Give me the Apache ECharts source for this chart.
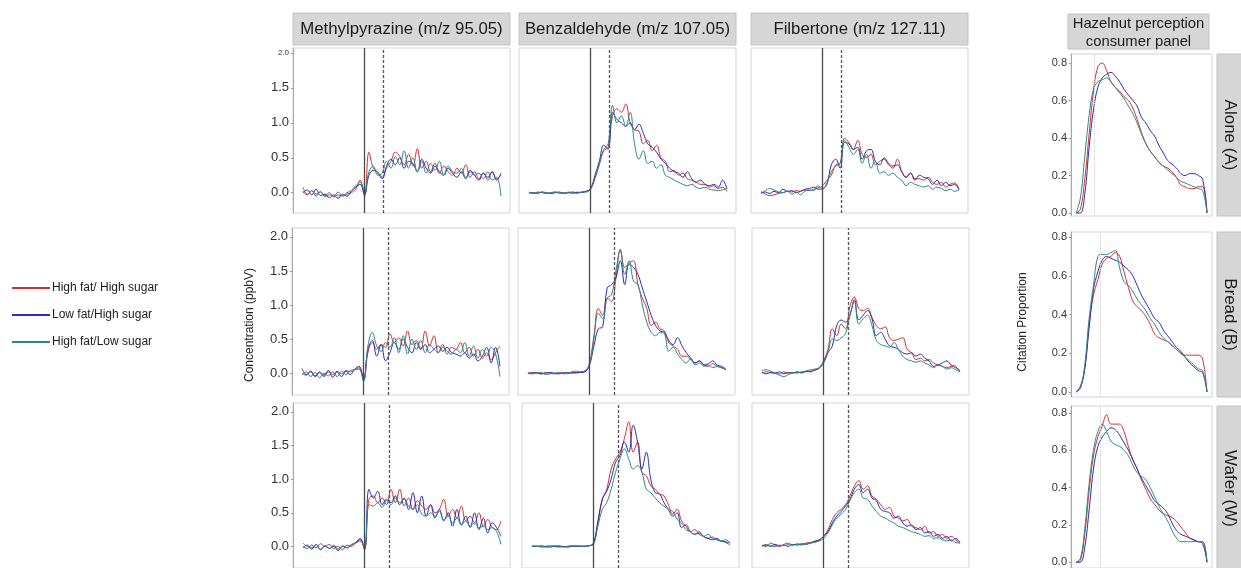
<!DOCTYPE html>
<html>
<head>
<meta charset="utf-8">
<script src="https://cdn.jsdelivr.net/npm/echarts@6/dist/echarts.min.js"></script>
<style>
html, body { margin: 0; padding: 0; background: #fff; }
#main { width: 1241px; height: 568px; }
</style>
</head>
<body>
<div id="main"></div>
<script>
// time grids (s)
var timeConc = [0,2,4,6,8,10,12,14,16,18,20,22,24,26,28,30,32,34,36,38,40,42,44,46,48,50,52,54,56,58,60,62,64,66,68,70,72,74,76,78,80,82,84,86,88,90];
var timeHazel = [0,2,4,6,8,10,12,14,16,18,20,22,24,26,28,30,32,34,36,38,40,42,44,46,48,50,52,54,56,58,60];

var groups = ['High fat/ High sugar', 'Low fat/High sugar', 'High fat/Low sugar'];
var compounds = ['Methylpyrazine (m/z 95.05)', 'Benzaldehyde (m/z 107.05)', 'Filbertone (m/z 127.11)'];
var matrices = ['Alone (A)', 'Bread (B)', 'Wafer (W)'];
var colors = ['#d62f2f', '#2b2bb3', '#2a8a82'];

var swallowT = 28;
var dashT = [36.4, 39.4, 39.4];
var hazelMarkT = [8.2, 11, 11];

// Methylpyrazine
var mpA_HFHS = [0.02,-0.03,0.03,-0.02,0.01,-0.04,0.00,-0.06,-0.03,-0.05,-0.02,0.00,0.05,0.18,-0.05,0.58,0.35,0.30,0.22,0.35,0.45,0.58,0.52,0.40,0.55,0.38,0.63,0.35,0.45,0.30,0.42,0.28,0.38,0.30,0.25,0.35,0.28,0.40,0.22,0.30,0.20,0.28,0.18,0.30,0.20,0.25];
var mpA_LFHS = [0.00,0.04,-0.03,0.05,-0.04,-0.02,-0.07,-0.03,-0.08,-0.02,-0.05,0.02,0.08,0.12,-0.02,0.25,0.32,0.28,0.20,0.38,0.48,0.40,0.50,0.35,0.45,0.42,0.30,0.48,0.35,0.28,0.38,0.30,0.25,0.35,0.28,0.22,0.30,0.20,0.32,0.25,0.18,0.28,0.22,0.30,0.18,0.28];
var mpA_HFLS = [0.08,-0.02,0.03,-0.05,0.02,-0.06,-0.03,-0.05,0.01,-0.04,0.00,0.03,0.10,0.15,0.02,0.30,0.38,0.25,0.28,0.45,0.35,0.52,0.40,0.60,0.35,0.50,0.30,0.45,0.28,0.42,0.32,0.45,0.25,0.38,0.30,0.28,0.35,0.22,0.30,0.25,0.28,0.20,0.30,0.18,0.22,-0.05];
var mpB_HFHS = [0.00,-0.03,0.02,-0.04,0.01,-0.05,0.02,-0.02,0.03,-0.01,0.04,0.02,0.05,0.08,-0.10,0.30,0.45,0.35,0.42,0.38,0.58,0.45,0.52,0.40,0.62,0.42,0.48,0.35,0.62,0.40,0.55,0.30,0.42,0.28,0.38,0.35,0.45,0.30,0.38,0.25,0.35,0.22,0.30,0.20,0.30,0.40];
var mpB_LFHS = [0.07,-0.02,0.03,-0.05,0.02,-0.03,0.04,-0.06,0.02,-0.05,0.03,-0.02,0.06,0.10,-0.08,0.35,0.48,0.25,0.42,0.18,0.30,0.45,0.35,0.50,0.38,0.30,0.45,0.35,0.42,0.30,0.35,0.40,0.32,0.38,0.30,0.28,0.25,0.30,0.22,0.28,0.18,0.25,0.38,0.15,0.38,0.10];
var mpB_HFLS = [-0.02,0.02,-0.05,0.01,-0.07,0.00,-0.04,0.02,-0.05,0.03,-0.02,0.04,0.05,0.06,-0.12,0.40,0.60,0.40,0.32,0.45,0.38,0.52,0.30,0.55,0.28,0.50,0.35,0.48,0.30,0.42,0.35,0.30,0.38,0.32,0.28,0.35,0.30,0.45,0.25,0.40,0.22,0.35,0.25,0.38,0.28,-0.05];
var mpW_HFHS = [0.00,-0.03,0.02,-0.02,0.04,0.00,0.03,-0.03,0.00,-0.05,0.02,0.00,0.05,0.10,-0.03,0.70,0.75,0.65,0.72,0.62,0.85,0.65,0.85,0.60,0.72,0.55,0.68,0.60,0.55,0.62,0.50,0.55,0.70,0.45,0.55,0.42,0.60,0.38,0.45,0.35,0.50,0.30,0.40,0.28,0.25,0.38];
var mpW_LFHS = [-0.02,0.02,-0.04,0.03,-0.05,0.01,-0.03,0.00,-0.06,0.00,-0.02,0.02,0.06,0.12,-0.05,0.85,0.72,0.82,0.62,0.70,0.65,0.75,0.62,0.72,0.55,0.80,0.50,0.75,0.45,0.62,0.42,0.55,0.38,0.50,0.30,0.55,0.32,0.45,0.28,0.50,0.25,0.42,0.20,0.35,0.28,0.15];
var mpW_HFLS = [0.05,0.00,-0.02,0.03,-0.04,0.00,-0.03,0.02,-0.04,0.01,-0.02,0.03,0.05,0.08,-0.02,0.62,0.60,0.65,0.58,0.68,0.62,0.72,0.65,0.70,0.60,0.55,0.62,0.48,0.45,0.50,0.45,0.52,0.40,0.45,0.35,0.42,0.32,0.38,0.30,0.35,0.28,0.30,0.25,0.28,0.22,0.03];

// Benzaldehyde
var bzA_HFHS = [0.00,-0.01,0.01,0.00,-0.01,0.00,0.01,-0.01,0.00,0.00,-0.01,0.01,0.00,0.02,0.05,0.20,0.40,0.60,0.65,1.10,1.20,1.15,1.27,1.00,0.90,0.88,0.70,0.75,0.60,0.68,0.50,0.45,0.30,0.32,0.25,0.28,0.20,0.18,0.15,0.12,0.12,0.08,0.10,0.06,0.08,0.02];
var bzA_LFHS = [0.00,0.00,-0.01,0.01,0.00,-0.01,0.00,0.01,-0.01,0.00,0.01,0.00,0.01,0.02,0.06,0.25,0.45,0.68,0.62,1.15,1.05,1.00,0.95,1.00,0.90,0.98,0.85,0.70,0.65,0.58,0.48,0.42,0.35,0.30,0.28,0.22,0.30,0.20,0.15,0.18,0.12,0.10,0.12,0.08,0.18,0.05];
var bzA_HFLS = [0.01,-0.01,0.00,0.01,-0.01,0.00,0.01,0.00,-0.01,0.01,0.00,-0.01,0.01,0.01,0.05,0.22,0.42,0.62,0.70,1.25,1.00,1.10,0.95,1.15,0.70,0.48,0.60,0.42,0.45,0.35,0.40,0.25,0.22,0.18,0.15,0.12,0.10,0.12,0.08,0.06,0.08,0.05,0.04,0.03,0.04,0.06];
var bzB_HFHS = [0.00,0.01,0.00,-0.01,0.01,0.00,-0.01,0.00,0.01,-0.01,0.01,0.00,0.02,0.03,0.15,0.55,0.95,0.85,1.10,1.05,1.40,1.82,1.55,1.62,1.65,1.30,1.10,0.95,0.70,0.75,0.65,0.62,0.45,0.40,0.35,0.25,0.25,0.20,0.15,0.18,0.12,0.10,0.14,0.10,0.08,0.05];
var bzB_LFHS = [0.00,0.00,0.01,-0.01,0.00,0.01,0.00,-0.01,0.00,0.01,0.00,0.01,0.01,0.02,0.12,0.40,0.65,0.68,1.25,1.30,1.40,1.65,1.30,1.60,1.55,1.45,1.25,1.05,0.85,0.70,0.62,0.60,0.48,0.42,0.52,0.40,0.30,0.22,0.15,0.18,0.12,0.14,0.18,0.12,0.10,0.06];
var bzB_HFLS = [0.00,-0.01,0.00,0.01,-0.02,-0.01,0.00,0.01,-0.01,0.00,0.02,0.03,0.02,0.04,0.12,0.50,0.88,0.80,1.10,1.15,1.50,1.80,1.45,1.65,1.35,1.30,1.00,0.75,0.60,0.55,0.60,0.58,0.32,0.38,0.28,0.20,0.15,0.22,0.12,0.15,0.10,0.12,0.08,0.10,0.08,0.05];
var bzW_HFHS = [0.00,0.01,-0.01,0.00,0.01,0.00,-0.01,0.00,0.00,0.01,0.00,0.00,0.01,0.01,0.05,0.35,0.70,0.85,1.15,1.30,1.40,1.60,1.85,1.40,1.55,1.10,1.05,0.90,0.85,0.78,0.75,0.62,0.48,0.55,0.38,0.30,0.22,0.25,0.18,0.15,0.12,0.14,0.10,0.08,0.06,0.02];
var bzW_LFHS = [0.00,0.00,0.01,0.00,-0.01,0.00,0.01,0.00,-0.01,0.00,0.01,0.00,0.00,0.01,0.05,0.38,0.70,0.82,1.00,1.25,1.35,1.55,1.40,1.80,1.55,1.15,1.40,1.00,0.80,0.78,0.65,0.55,0.45,0.50,0.28,0.32,0.22,0.18,0.20,0.15,0.12,0.10,0.12,0.08,0.07,0.05];
var bzW_HFLS = [0.01,0.00,0.00,-0.01,0.00,0.01,0.00,-0.01,0.00,0.01,0.00,0.01,0.00,0.01,0.03,0.30,0.55,0.65,0.85,1.10,1.30,1.45,1.30,1.15,1.20,1.10,0.85,0.80,0.72,0.65,0.60,0.55,0.52,0.40,0.35,0.25,0.22,0.18,0.22,0.15,0.18,0.12,0.10,0.08,0.10,0.06];

// Filbertone
var fbA_HFHS = [0.02,-0.02,-0.04,-0.03,-0.01,0.00,0.02,0.01,0.03,0.02,0.04,0.03,0.05,0.07,0.10,0.18,0.25,0.40,0.42,0.78,0.72,0.62,0.75,0.55,0.50,0.55,0.40,0.45,0.48,0.40,0.35,0.48,0.30,0.22,0.28,0.20,0.20,0.18,0.22,0.15,0.12,0.15,0.08,0.12,0.14,0.06];
var fbA_LFHS = [0.00,0.01,-0.01,0.02,0.00,0.05,0.02,0.03,0.00,0.02,0.05,0.06,0.08,0.05,0.06,0.12,0.40,0.48,0.35,0.72,0.70,0.62,0.65,0.48,0.60,0.62,0.45,0.40,0.50,0.42,0.38,0.40,0.30,0.22,0.28,0.18,0.25,0.22,0.20,0.12,0.18,0.10,0.15,0.10,0.12,0.04];
var fbA_HFLS = [-0.02,0.03,0.06,0.04,0.01,0.00,0.02,-0.02,0.01,-0.03,0.02,0.04,0.03,0.10,0.05,0.14,0.30,0.38,0.42,0.75,0.65,0.55,0.62,0.42,0.55,0.35,0.45,0.28,0.30,0.25,0.28,0.22,0.18,0.10,0.15,0.12,0.10,0.08,0.10,0.05,0.08,0.06,0.03,0.05,0.02,0.04];
var fbB_HFHS = [0.00,0.02,0.01,0.00,-0.01,0.02,0.00,0.01,0.00,0.02,0.02,0.03,0.04,0.08,0.18,0.35,0.65,0.55,0.72,0.65,0.98,1.12,0.95,0.92,0.95,0.82,0.70,0.65,0.68,0.52,0.48,0.50,0.52,0.35,0.30,0.20,0.22,0.18,0.20,0.15,0.12,0.10,0.08,0.10,0.08,0.04];
var fbB_LFHS = [0.02,-0.01,0.01,0.00,0.02,-0.01,0.01,0.00,0.02,0.01,0.03,0.02,0.05,0.07,0.15,0.30,0.40,0.70,0.78,0.75,0.85,1.08,0.78,0.85,0.92,0.80,0.55,0.60,0.50,0.40,0.38,0.35,0.30,0.28,0.30,0.25,0.28,0.22,0.18,0.10,0.12,0.15,0.18,0.12,0.10,0.02];
var fbB_HFLS = [0.04,0.05,0.03,0.00,-0.03,-0.05,-0.02,0.00,0.02,0.00,0.03,0.05,0.06,0.08,0.15,0.30,0.50,0.48,0.52,0.58,0.85,1.05,0.72,0.80,0.85,0.70,0.48,0.42,0.40,0.38,0.45,0.35,0.25,0.20,0.18,0.16,0.18,0.15,0.12,0.08,0.12,0.10,0.06,0.08,0.05,0.02];
var fbW_HFHS = [0.02,0.00,0.05,0.02,0.00,0.03,0.05,0.02,0.04,0.03,0.05,0.06,0.08,0.10,0.15,0.25,0.40,0.50,0.55,0.62,0.75,0.90,0.98,0.85,0.90,0.75,0.70,0.62,0.55,0.58,0.45,0.42,0.38,0.40,0.30,0.28,0.25,0.30,0.20,0.22,0.15,0.18,0.12,0.15,0.10,0.05];
var fbW_LFHS = [0.00,0.02,0.00,0.03,0.01,0.02,0.00,0.03,0.02,0.04,0.03,0.05,0.07,0.09,0.15,0.22,0.35,0.45,0.52,0.60,0.70,0.85,0.92,0.80,0.85,0.72,0.68,0.55,0.52,0.50,0.42,0.45,0.35,0.30,0.32,0.25,0.28,0.20,0.22,0.15,0.18,0.12,0.15,0.08,0.12,0.06];
var fbW_HFLS = [0.01,0.03,0.01,0.00,0.02,0.01,0.03,0.02,0.03,0.02,0.04,0.05,0.06,0.08,0.12,0.20,0.32,0.42,0.48,0.55,0.68,0.80,0.85,0.72,0.70,0.60,0.52,0.45,0.42,0.38,0.35,0.30,0.28,0.25,0.22,0.20,0.18,0.15,0.16,0.12,0.13,0.10,0.08,0.10,0.06,0.05];

// Hazelnut perception (citation proportion)
var hzA_HFHS = [0.00,0.02,0.18,0.42,0.65,0.78,0.80,0.76,0.70,0.67,0.65,0.62,0.60,0.56,0.50,0.43,0.37,0.33,0.30,0.27,0.25,0.24,0.22,0.19,0.15,0.14,0.13,0.13,0.14,0.14,0.00];
var hzA_LFHS = [0.00,0.00,0.10,0.35,0.55,0.67,0.72,0.74,0.75,0.73,0.70,0.66,0.63,0.60,0.57,0.51,0.48,0.44,0.41,0.36,0.32,0.28,0.26,0.24,0.21,0.20,0.21,0.21,0.20,0.18,0.00];
var hzA_HFLS = [0.00,0.08,0.30,0.52,0.66,0.70,0.71,0.72,0.70,0.67,0.64,0.61,0.57,0.53,0.48,0.42,0.37,0.33,0.30,0.27,0.25,0.23,0.21,0.19,0.17,0.16,0.15,0.14,0.13,0.12,0.00];
var hzB_HFHS = [0.00,0.03,0.12,0.35,0.50,0.58,0.66,0.69,0.70,0.72,0.70,0.62,0.54,0.47,0.44,0.42,0.39,0.35,0.30,0.28,0.27,0.26,0.24,0.22,0.20,0.19,0.19,0.19,0.19,0.17,0.00];
var hzB_LFHS = [0.00,0.02,0.12,0.33,0.53,0.62,0.68,0.70,0.69,0.68,0.67,0.65,0.63,0.60,0.55,0.50,0.46,0.42,0.38,0.36,0.32,0.29,0.26,0.23,0.21,0.18,0.15,0.13,0.11,0.10,0.00];
var hzB_HFLS = [0.00,0.02,0.14,0.38,0.55,0.70,0.71,0.71,0.72,0.73,0.64,0.57,0.55,0.52,0.48,0.45,0.42,0.38,0.35,0.31,0.28,0.26,0.24,0.22,0.20,0.18,0.16,0.14,0.12,0.11,0.00];
var hzW_HFHS = [0.00,0.01,0.15,0.38,0.57,0.67,0.73,0.79,0.74,0.74,0.74,0.70,0.62,0.55,0.50,0.44,0.39,0.34,0.31,0.28,0.26,0.25,0.24,0.22,0.19,0.16,0.13,0.12,0.11,0.11,0.00];
var hzW_LFHS = [0.00,0.00,0.08,0.28,0.50,0.62,0.67,0.70,0.72,0.71,0.68,0.64,0.60,0.55,0.50,0.45,0.41,0.37,0.33,0.31,0.29,0.26,0.21,0.17,0.15,0.14,0.13,0.12,0.11,0.10,0.00];
var hzW_HFLS = [0.00,0.02,0.18,0.42,0.60,0.70,0.74,0.70,0.65,0.63,0.62,0.60,0.57,0.52,0.48,0.46,0.44,0.40,0.35,0.30,0.26,0.22,0.17,0.13,0.11,0.11,0.11,0.11,0.11,0.11,0.00];

var concData = [
	[[mpA_HFHS, mpA_LFHS, mpA_HFLS], [bzA_HFHS, bzA_LFHS, bzA_HFLS], [fbA_HFHS, fbA_LFHS, fbA_HFLS]],
	[[mpB_HFHS, mpB_LFHS, mpB_HFLS], [bzB_HFHS, bzB_LFHS, bzB_HFLS], [fbB_HFHS, fbB_LFHS, fbB_HFLS]],
	[[mpW_HFHS, mpW_LFHS, mpW_HFLS], [bzW_HFHS, bzW_LFHS, bzW_HFLS], [fbW_HFHS, fbW_LFHS, fbW_HFLS]]
];
var hazelData = [
	[hzA_HFHS, hzA_LFHS, hzA_HFLS],
	[hzB_HFHS, hzB_LFHS, hzB_HFLS],
	[hzW_HFHS, hzW_LFHS, hzW_HFLS]
];

// layout
var FONT = '"Liberation Sans", Arial, sans-serif';
var concLeft = [[293, 519, 751], [292, 518, 752], [293, 522, 752]];
var concW = 217;
var rowTop = [48, 228, 403];
var rowH = [165, 167, 168];
var concRange = [[-0.29, 2.07], [-0.32, 2.13], [-0.32, 2.13]];
var hazLeft = 1071, hazW = 141;
var hazTop = [54, 232, 406];
var hazH = [162, 165, 165];
var hazRange = [[-0.016, 0.848], [-0.026, 0.826], [-0.031, 0.837]];

function pairs(ts, ys) {
	return ts.map(function (t, i) { return [t, ys[i]]; });
}

var grids = [], xAxes = [], yAxes = [], series = [];

function addPanel(left, top, width, height, xr, yr, step, showLabels, labelSize, smallTop) {
	var idx = grids.length;
	grids.push({
		left: left, top: top, width: width, height: height,
		show: true, borderColor: '#d4d4d4', borderWidth: 1, backgroundColor: '#fff'
	});
	xAxes.push({
		type: 'value', gridIndex: idx, min: xr[0], max: xr[1],
		axisLine: { show: false }, axisTick: { show: false },
		axisLabel: { show: false }, splitLine: { show: false }
	});
	yAxes.push({
		type: 'value', gridIndex: idx, min: yr[0], max: yr[1],
		axisLine: { show: showLabels, onZero: false, lineStyle: { color: '#a8a8a8' } },
		axisTick: { show: showLabels, length: 2, lineStyle: { color: '#999' } },
		splitLine: { show: false },
		axisLabel: {
			show: showLabels, showMinLabel: false, showMaxLabel: false,
			margin: 4, fontFamily: FONT, fontSize: labelSize, color: '#333',
			formatter: function (v) {
				var k = v / step;
				if (Math.abs(k - Math.round(k)) > 1e-6) return '';
				if (smallTop && Math.abs(v - 2) < 1e-6) return '{s|2.0}';
				return v.toFixed(1);
			},
			rich: { s: { fontSize: 8, fontFamily: FONT, color: '#333' } }
		}
	});
	return idx;
}

for (var r = 0; r < 3; r++) {
	for (var c = 0; c < 3; c++) {
		var gi = addPanel(concLeft[r][c], rowTop[r], concW, rowH[r], [-4.5, 94.1], concRange[r], 0.5, c === 0, 13, r === 0);
		for (var s = 0; s < 3; s++) {
			var ser = {
				name: groups[s], type: 'line', xAxisIndex: gi, yAxisIndex: gi,
				data: pairs(timeConc, concData[r][c][s]),
				showSymbol: false, symbol: 'none', smooth: 0.4,
				lineStyle: { width: 1, color: colors[s] }, itemStyle: { color: colors[s] },
				silent: true
			};
			if (s === 0) {
				ser.markLine = {
					silent: true, symbol: ['none', 'none'], label: { show: false },
					data: [
						{ xAxis: swallowT, lineStyle: { type: 'solid', color: '#4a4a4a', width: 1.3 } },
						{ xAxis: dashT[r], lineStyle: { type: [3, 2], color: '#555', width: 1.3 } }
					]
				};
			}
			series.push(ser);
		}
	}
}

for (var r2 = 0; r2 < 3; r2++) {
	var hi = addPanel(hazLeft, hazTop[r2], hazW, hazH[r2], [-2.3, 62.3], hazRange[r2], 0.2, true, 11, false);
	for (var s2 = 0; s2 < 3; s2++) {
		var hs = {
			name: groups[s2], type: 'line', xAxisIndex: hi, yAxisIndex: hi,
			data: pairs(timeHazel, hazelData[r2][s2]),
			showSymbol: false, symbol: 'none', smooth: 0.4,
			lineStyle: { width: 1, color: colors[s2] }, itemStyle: { color: colors[s2] },
			silent: true
		};
		if (s2 === 0) {
			hs.markLine = {
				silent: true, symbol: ['none', 'none'], label: { show: false },
				data: [{ xAxis: hazelMarkT[r2], lineStyle: { type: [1, 1], color: '#cfcfcf', width: 1 } }]
			};
		}
		series.push(hs);
	}
}

// strip headers and labels
var graphics = [];
for (var c2 = 0; c2 < 3; c2++) {
	graphics.push({
		type: 'rect', shape: { x: concLeft[0][c2], y: 13, width: concW, height: 32 },
		style: { fill: '#d6d6d6', stroke: '#c2c2c2', lineWidth: 1 }, silent: true
	});
	graphics.push({
		type: 'text', x: concLeft[0][c2] + concW / 2, y: 29,
		style: { text: compounds[c2], fontSize: 16.8, fontFamily: FONT, fill: '#1a1a1a', align: 'center', verticalAlign: 'middle' },
		silent: true
	});
}
graphics.push({
	type: 'rect', shape: { x: 1068, y: 14, width: 141, height: 35 },
	style: { fill: '#d6d6d6', stroke: '#c2c2c2', lineWidth: 1 }, silent: true
});
graphics.push({
	type: 'text', x: 1138.5, y: 33,
	style: { text: 'Hazelnut perception\nconsumer panel', fontSize: 14.8, lineHeight: 18, fontFamily: FONT, fill: '#1a1a1a', align: 'center', verticalAlign: 'middle' },
	silent: true
});
for (var r3 = 0; r3 < 3; r3++) {
	graphics.push({
		type: 'rect', shape: { x: 1217, y: hazTop[r3], width: 40, height: hazH[r3] },
		style: { fill: '#d6d6d6', stroke: '#c2c2c2', lineWidth: 1 }, silent: true
	});
	graphics.push({
		type: 'text', x: 1230, y: hazTop[r3] + hazH[r3] / 2, rotation: -Math.PI / 2,
		style: { text: matrices[r3], fontSize: 17, fontFamily: FONT, fill: '#1a1a1a', align: 'center', verticalAlign: 'middle' },
		silent: true
	});
}
graphics.push({
	type: 'text', x: 250, y: 325, rotation: Math.PI / 2,
	style: { text: 'Concentration (ppbV)', fontSize: 12, fontFamily: FONT, fill: '#222', align: 'center', verticalAlign: 'middle' },
	silent: true
});
graphics.push({
	type: 'text', x: 1023, y: 322, rotation: Math.PI / 2,
	style: { text: 'Citation Proportion', fontSize: 12, fontFamily: FONT, fill: '#222', align: 'center', verticalAlign: 'middle' },
	silent: true
});

var myChart = echarts.init(document.getElementById('main'));

myChart.setOption({
	backgroundColor: '#fff',
	animation: false,
	legend: {
		data: groups.map(function (g) { return { name: g, icon: 'rect' }; }),
		orient: 'vertical',
		left: 7, top: 276,
		itemWidth: 38, itemHeight: 2, itemGap: 13,
		textStyle: { fontFamily: FONT, fontSize: 12, color: '#222', padding: [0, 0, 0, -3], lineHeight: 14 },
		selectedMode: false
	},
	grid: grids,
	xAxis: xAxes,
	yAxis: yAxes,
	series: series,
	graphic: graphics
});
</script>
</body>
</html>
